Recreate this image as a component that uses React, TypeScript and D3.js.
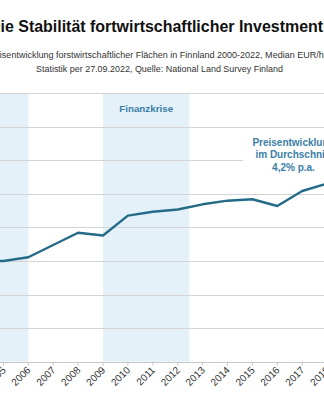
import React from "react";
import * as d3 from "d3";

const years = [2000, 2001, 2002, 2003, 2004, 2005, 2006, 2007, 2008, 2009, 2010, 2011, 2012, 2013, 2014, 2015, 2016, 2017, 2018, 2019, 2020, 2021, 2022];
const prices = [1300, 1340, 1390, 1430, 1490, 1500, 1555, 1737, 1920, 1879, 2174, 2233, 2266, 2343, 2397, 2418, 2318, 2541, 2653, 2760, 2860, 3050, 3250];
const yTicks = [0, 500, 1000, 1500, 2000, 2500, 3000, 3500, 4000];
const bands = [
  { from: 2001, to: 2006, label: "" },
  { from: 2009, to: 2012.47, label: "Finanzkrise" },
];
const titleText = "Die Stabilität fortwirtschaftlicher Investments";
const subtitleLines = [
  "Preisentwicklung forstwirtschaftlicher Flächen in Finnland 2000-2022, Median EUR/ha",
  "Statistik per 27.09.2022, Quelle: National Land Survey Finland",
];
const annotationLines = ["Preisentwicklung", "im Durchschnitt", "4,2% p.a."];

const W = 324;
const H = 400;
const LINE = "#246b88";
const ACCENT = "#3a7ea6";
const BAND = "#e5f1f9";
const GRID = "#d4d4d4";

export default function App() {
  const x = d3.scaleLinear().domain([2000, 2022]).range([-121.1, 426.7]);
  const y = d3.scaleLinear().domain([0, 4000]).range([361.7, 93]);
  const line = d3
    .line<number>()
    .x((_, i) => x(years[i]))
    .y((d) => y(d));
  const sans = "'Liberation Sans', Arial, sans-serif";
  const narrow = "'Liberation Sans Narrow', 'Arial Narrow', sans-serif";
  const subWidths = [343, 247];
  const subCenters = [157.3, 159.5];
  return (
    <svg
      width={W}
      height={H}
      style={{ position: "absolute", left: 0, top: 0, background: "#fff" }}
    >
      <rect x={0} y={0} width={W} height={H} fill="#fff" />
      <text
        x={160.5}
        y={31.5}
        textAnchor="middle"
        fontFamily={sans}
        fontWeight="bold"
        fontSize={16}
        textLength={343}
        lengthAdjust="spacingAndGlyphs"
        fill="#111"
      >
        {titleText}
      </text>
      {subtitleLines.map((t, i) => (
        <text
          key={i}
          x={subCenters[i]}
          y={58 + i * 14}
          textAnchor="middle"
          fontFamily={narrow}
          fontSize={9.75}
          textLength={subWidths[i]}
          lengthAdjust="spacingAndGlyphs"
          fill="#333"
        >
          {t}
        </text>
      ))}
      {bands.map((b, i) => (
        <rect
          key={i}
          x={x(b.from)}
          y={y(4000)}
          width={x(b.to) - x(b.from)}
          height={y(0) - y(4000)}
          fill={BAND}
        />
      ))}
      {yTicks.map((t) => (
        <line
          key={t}
          x1={0}
          x2={W}
          y1={Math.round(y(t)) + 0.5}
          y2={Math.round(y(t)) + 0.5}
          stroke={t === 0 ? "#c8c8c8" : GRID}
          strokeWidth={1}
        />
      ))}
      {bands
        .filter((b) => b.label)
        .map((b, i) => (
          <text
            key={i}
            x={(x(b.from) + x(b.to)) / 2}
            y={112}
            textAnchor="middle"
            fontFamily={sans}
            fontWeight="bold"
            fontSize={9.8}
            fill={ACCENT}
          >
            {b.label}
          </text>
        ))}
      <rect x={243} y={134} width={120} height={43} fill="#fff" />
      {annotationLines.map((t, i) => (
        <text
          key={i}
          x={293.5}
          y={146 + i * 12.3}
          textAnchor="middle"
          fontFamily={sans}
          fontWeight="bold"
          fontSize={10}
          fill={ACCENT}
        >
          {t}
        </text>
      ))}
      <path
        d={line(prices) || ""}
        fill="none"
        stroke={LINE}
        strokeWidth={2.4}
        strokeLinejoin="round"
      />
      {years.map((yr) => (
        <g key={yr} transform={`translate(${x(yr)},${y(0)})`}>
          <line y1={0} y2={4} stroke="#c8c8c8" />
          <text
            transform="translate(3,9) rotate(-45)"
            textAnchor="end"
            fontFamily={sans}
            fontSize={10}
            fill="#333"
          >
            {yr}
          </text>
        </g>
      ))}
    </svg>
  );
}
